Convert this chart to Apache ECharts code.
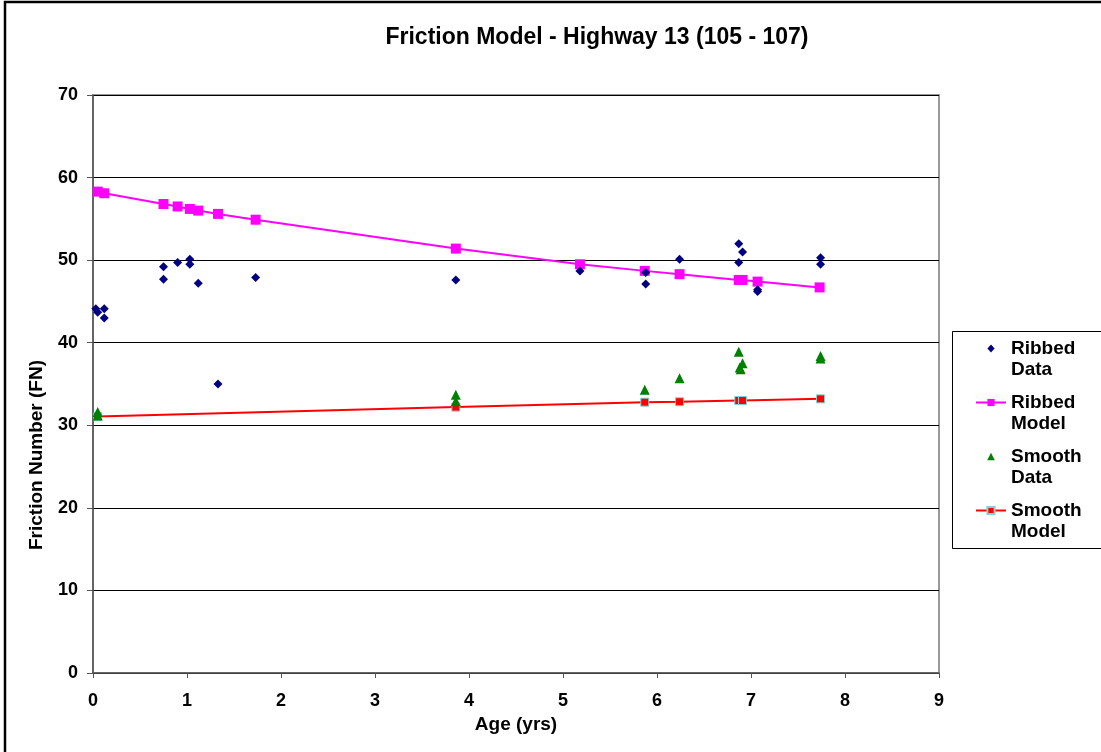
<!DOCTYPE html>
<html>
<head>
<meta charset="utf-8">
<title>Friction Model - Highway 13 (105 - 107)</title>
<script src="https://cdn.jsdelivr.net/npm/echarts@6/dist/echarts.min.js"></script>
<style>
  html, body { margin: 0; padding: 0; background: #fff; }
  #chart { width: 1101px; height: 752px; }
</style>
</head>
<body>
<div id="chart"></div>
<script>
// Measured friction numbers on the ribbed and smooth sections, by pavement age
const ribbedData = [
  [0.03, 44.1], [0.05, 43.7], [0.12, 44.1], [0.12, 43.0],
  [0.75, 49.2], [0.75, 47.7], [0.90, 49.7], [1.03, 50.1], [1.03, 49.5],
  [1.12, 47.2], [1.33, 35.0], [1.73, 47.9], [3.86, 47.6], [5.18, 48.7],
  [5.88, 48.5], [5.88, 47.1], [6.24, 50.1], [6.87, 52.0], [6.91, 51.0],
  [6.87, 49.7], [7.07, 46.2], [7.07, 46.4], [7.74, 50.3], [7.74, 49.5]
];
const ribbedModel = [
  [0.05, 58.3], [0.12, 58.1], [0.75, 56.8], [0.90, 56.5], [1.03, 56.2],
  [1.12, 56.0], [1.33, 55.6], [1.73, 54.9], [3.86, 51.4], [5.18, 49.5],
  [5.87, 48.7], [6.24, 48.3], [6.87, 47.6], [6.91, 47.6], [7.07, 47.4],
  [7.73, 46.7]
];
const smoothData = [
  [0.05, 31.6], [0.05, 31.2], [3.86, 33.7], [3.86, 32.9], [5.87, 34.3],
  [6.24, 35.7], [6.87, 38.9], [6.91, 37.5], [6.88, 37.0], [6.89, 36.8],
  [7.74, 38.4], [7.74, 38.1]
];
const smoothModel = [
  [0.05, 31.05], [3.86, 32.2], [5.87, 32.8], [6.24, 32.85], [6.87, 33.0],
  [6.91, 33.0], [7.74, 33.2]
];
const seriesNames = ['Ribbed\nData', 'Ribbed\nModel', 'Smooth\nData', 'Smooth\nModel'];
const xTicks = { min: 0, max: 9, step: 1 };
const yTicks = { min: 0, max: 70, step: 10 };

const FONT = '"Liberation Sans", Arial, sans-serif';

// Legend keys for the scatter series: a small glyph centred in the 30x9 key box,
// the corner moves fix the box so the glyph keeps its shape
const diamondKey = 'path://M0,0M30,9M15,0.6L18.6,4.5L15,8.4L11.4,4.5Z';
const triangleKey = 'path://M0,0M30,9M15,0.8L18.8,8.2L11.2,8.2Z';

const chart = echarts.init(document.getElementById('chart'), null, { renderer: 'canvas' });

chart.setOption({
  backgroundColor: '#ffffff',
  animation: false,
  title: {
    text: 'Friction Model - Highway 13 (105 - 107)',
    left: 592, top: 21, textAlign: 'center',
    textStyle: { fontFamily: FONT, fontWeight: 'bold', fontSize: 23, color: '#000' }
  },
  graphic: [
    // outer chart frame
    { type: 'rect', shape: { x: 5, y: 2, width: 1200, height: 800 },
      style: { fill: 'none', stroke: '#000', lineWidth: 2.5 }, silent: true },
    // legend frame
    { type: 'rect', shape: { x: 952.5, y: 331.5, width: 200, height: 217 },
      style: { fill: '#fff', stroke: '#000', lineWidth: 1 }, silent: true, z: -1 },
    // value axis title
    { type: 'text', x: 37, y: 455, rotation: Math.PI / 2,
      style: { text: 'Friction Number (FN)', fontFamily: FONT, fontWeight: 'bold',
               fontSize: 19, fill: '#000', align: 'center', verticalAlign: 'middle' },
      silent: true }
  ],
  legend: {
    orient: 'vertical',
    left: 975, top: 317,
    padding: 0,
    itemGap: -9,
    itemWidth: 30, itemHeight: 9,
    data: [
      { name: seriesNames[0], icon: diamondKey },
      { name: seriesNames[1] },
      { name: seriesNames[2], icon: triangleKey },
      { name: seriesNames[3] }
    ],
    // leading blank line keeps the first text line level with the icon
    formatter: name => '\n' + name,
    textStyle: {
      fontFamily: FONT, fontWeight: 'bold', fontSize: 19, color: '#000', lineHeight: 21
    },
    z: 5
  },
  grid: {
    left: 93, right: 162, top: 95, bottom: 79,
    show: true, borderColor: '#999999', borderWidth: 2, backgroundColor: 'transparent'
  },
  xAxis: {
    type: 'value', min: xTicks.min, max: xTicks.max, interval: xTicks.step,
    name: 'Age (yrs)', nameLocation: 'middle', nameGap: 40,
    nameTextStyle: { fontFamily: FONT, fontWeight: 'bold', fontSize: 19, color: '#000' },
    axisLine: { show: true, lineStyle: { color: '#555', width: 1.5 } },
    axisTick: { show: true, length: 5, lineStyle: { color: '#555' } },
    axisLabel: { fontFamily: FONT, fontWeight: 'bold', fontSize: 18, color: '#000', margin: 19 },
    splitLine: { show: false }
  },
  yAxis: {
    type: 'value', min: yTicks.min, max: yTicks.max, interval: yTicks.step,
    axisLine: { show: true, lineStyle: { color: '#555', width: 1.5 } },
    axisTick: { show: true, length: 6, lineStyle: { color: '#555' } },
    axisLabel: { fontFamily: FONT, fontWeight: 'bold', fontSize: 18, color: '#000', margin: 15 },
    splitLine: { show: true, lineStyle: { color: '#000', width: 1 } }
  },
  series: [
    {
      name: seriesNames[0], type: 'scatter', data: ribbedData,
      symbol: 'diamond', symbolSize: 9,
      itemStyle: { color: '#000080', opacity: 1 }, z: 4
    },
    {
      name: seriesNames[1], type: 'line', data: ribbedModel,
      symbol: 'rect', symbolSize: 10, showAllSymbol: true,
      lineStyle: { color: '#ff00ff', width: 2 },
      itemStyle: { color: '#ff00ff' }, z: 3
    },
    {
      name: seriesNames[2], type: 'scatter', data: smoothData,
      symbol: 'triangle', symbolSize: 10,
      itemStyle: { color: '#008000', opacity: 1 }, z: 4
    },
    {
      name: seriesNames[3], type: 'line', data: smoothModel,
      symbol: 'rect', symbolSize: 8, showAllSymbol: true,
      lineStyle: { color: '#ff0000', width: 2 },
      itemStyle: { color: '#ff0000', borderColor: '#7fd3d3', borderWidth: 1 }, z: 3
    }
  ]
});
</script>
</body>
</html>
